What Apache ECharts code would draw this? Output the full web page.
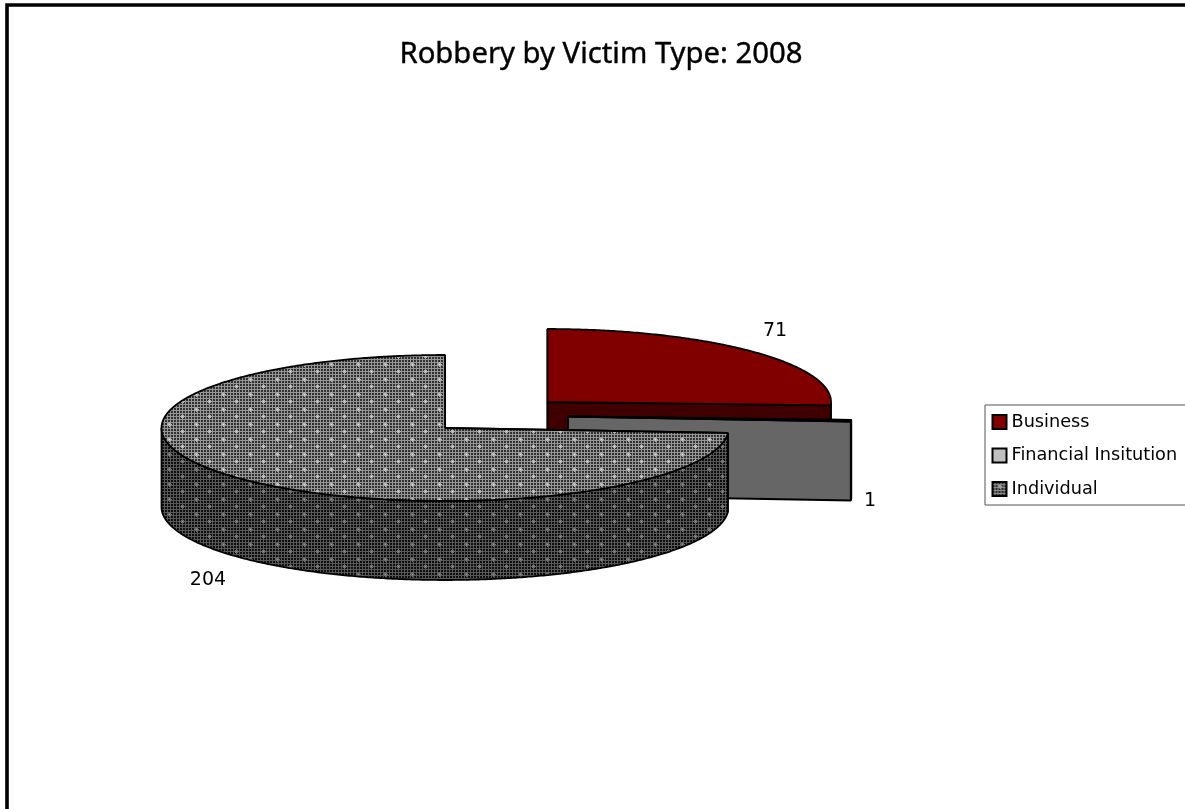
<!DOCTYPE html>
<html>
<head>
<meta charset="utf-8">
<style>html,body{margin:0;padding:0;background:#fff}#chart{width:1185px;height:809px}</style>
<script src="https://cdn.jsdelivr.net/npm/echarts@6/dist/echarts.min.js"></script>
</head>
<body>
<div id="chart"></div>
<script>
const chartTitle = 'Robbery by Victim Type: 2008';
const categories = ['Business', 'Financial Insitution', 'Individual'];
const robberies = [71, 1, 204];

// Projection of the tilted disc and the offset of each pulled-out slice.
const RX = 283.5, RY = 73, DEPTH = 79;
const CENTER = [445, 428];
const EXPLODE = [[102.5, -26], [123, -11.5], [0, 0]];
const LABEL_AT = [[775, 331], [870, 501], [208, 580]];

const total = robberies.reduce((a, b) => a + b, 0);

// Woven dot fill: a fine grid with staggered soft crosses.
function weave(gridDark, gridLight, dotCore, dotArm) {
  const w = 27, h = 15;
  const c = document.createElement('canvas');
  c.width = w; c.height = h;
  const g = c.getContext('2d');
  g.fillStyle = gridLight;
  g.fillRect(0, 0, w, h);
  g.fillStyle = gridDark;
  for (let y = 0; y < h; y += 3) {
    for (let x = 0; x < w; x += 3) g.fillRect(x, y, 2, 2);
  }
  const cross = (cx, cy) => {
    g.fillStyle = dotArm;
    g.fillRect(cx - 2, cy, 5, 1);
    g.fillRect(cx, cy - 2, 1, 5);
    g.fillRect(cx - 1, cy - 1, 3, 3);
    g.fillStyle = dotCore;
    g.fillRect(cx, cy, 1, 1);
  };
  cross(7, 4);
  cross(20, 11);
  return { image: c, repeat: 'repeat' };
}

const topWeave = weave('#303030', '#969696', '#dcdcdc', '#b0b0b0');
const sideWeave = weave('#0e0e0e', '#585858', '#909090', '#6c6c6c');

const topFills = ['#800000', '#bbbbbb', topWeave];
const wallFills = ['#400000', '#666666', sideWeave];
const legendFills = ['#800000', '#c0c0c0', weave('#2a2a2a', '#8c8c8c', '#bbbbbb', '#999999')];

function rimPoint(cx, cy, deg) {
  const a = deg * Math.PI / 180;
  return [cx + RX * Math.sin(a), cy - RY * Math.cos(a)];
}

function arcPoints(cx, cy, from, to) {
  const pts = [];
  const steps = Math.max(1, Math.ceil((to - from) / 0.5));
  for (let i = 0; i <= steps; i++) pts.push(rimPoint(cx, cy, from + (to - from) * i / steps));
  return pts;
}

function drawSlice(index) {
  return function (params, api) {
    const value = api.value(0);
    const before = robberies.slice(0, index).reduce((a, b) => a + b, 0);
    const start = before / total * 360;
    const end = start + value / total * 360;
    const cx = CENTER[0] + EXPLODE[index][0];
    const cy = CENTER[1] + EXPLODE[index][1];
    const line = { stroke: '#000', lineWidth: 1.8, lineJoin: 'bevel' };
    const children = [];
    const poly = (points, fill) => children.push({
      type: 'polygon', shape: { points }, style: Object.assign({ fill }, line)
    });

    // Radial cut faces.
    [start, end].forEach(function (deg) {
      const p = rimPoint(cx, cy, deg);
      poly([[cx, cy], p, [p[0], p[1] + DEPTH], [cx, cy + DEPTH]], wallFills[index]);
    });

    // Outer wall: only the part of the rim facing the viewer.
    const wallFrom = Math.max(start, 90), wallTo = Math.min(end, 270);
    if (wallTo > wallFrom) {
      const rim = arcPoints(cx, cy, wallFrom, wallTo);
      const low = rim.map(p => [p[0], p[1] + DEPTH]).reverse();
      poly(rim.concat(low), wallFills[index]);
    }

    // Top surface.
    poly([[cx, cy]].concat(arcPoints(cx, cy, start, end)), topFills[index]);

    // Value label.
    children.push({
      type: 'text',
      style: {
        x: LABEL_AT[index][0], y: LABEL_AT[index][1],
        text: String(value), fill: '#000',
        font: '19px "DejaVu Sans"', align: 'center', verticalAlign: 'middle'
      }
    });
    return { type: 'group', children };
  };
}

const chart = echarts.init(document.getElementById('chart'), null, { renderer: 'canvas' });
chart.setOption({
  animation: false,
  backgroundColor: '#fff',
  title: {
    text: chartTitle,
    left: 596, top: 35, textAlign: 'center',
    textStyle: {
      fontFamily: '"Noto Sans"', fontSize: 29.3, fontWeight: 'normal', color: '#000',
      textBorderColor: '#000', textBorderWidth: 0.4
    }
  },
  legend: {
    orient: 'vertical',
    left: 985, top: 405,
    padding: [8, 14, 7, 6.5],
    itemWidth: 14, itemHeight: 14, itemGap: 15.5,
    selectedMode: false,
    backgroundColor: '#fff',
    borderColor: '#555', borderWidth: 1,
    textStyle: { fontFamily: '"DejaVu Sans"', fontSize: 17.7, color: '#000' },
    data: categories.map((name, i) => ({
      name, icon: 'rect',
      itemStyle: { color: legendFills[i], borderColor: '#000', borderWidth: 2 }
    }))
  },
  graphic: [{
    type: 'rect', silent: true, z: 100,
    shape: { x: 7, y: 5, width: 3000, height: 3000 },
    style: { fill: 'none', stroke: '#000', lineWidth: 3.6 }
  }],
  series: categories.map((name, i) => ({
    type: 'custom',
    name,
    coordinateSystem: 'none',
    z: 2 + i,
    silent: true,
    renderItem: drawSlice(i),
    data: [[robberies[i]]]
  }))
});
</script>
</body>
</html>
